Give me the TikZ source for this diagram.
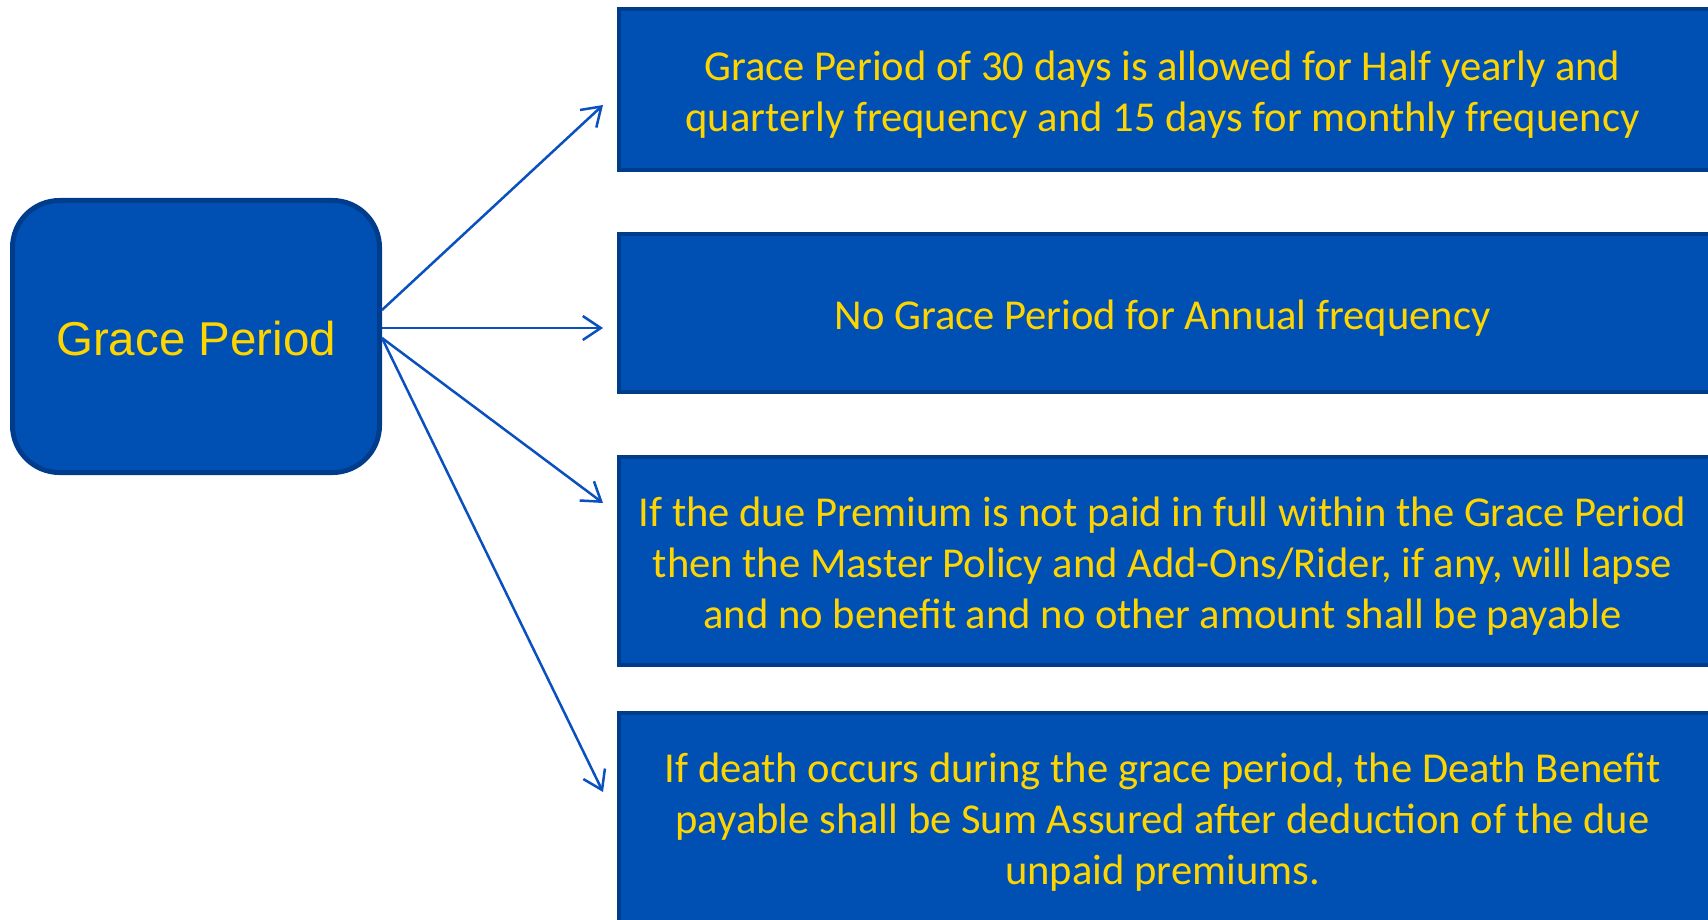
\documentclass[tikz,border=0pt]{standalone}
\usepackage{fontspec}
\setmainfont{Carlito}
\newfontfamily\arialfont{Liberation Sans}
\usetikzlibrary{arrows.meta,calc}
\definecolor{boxfill}{HTML}{0050B4}
\definecolor{boxline}{HTML}{003C8C}
\definecolor{txtyellow}{HTML}{FFD500}
\definecolor{arrblue}{HTML}{0A50BE}
\tikzset{
  gpbox/.style={draw=boxline, fill=boxfill, line width=5pt, rounded corners=47pt, inner sep=0pt},
  gptext/.style={text=txtyellow, font=\arialfont\fontsize{47.5}{56}\selectfont, inner sep=0pt},
  infobox/.style={draw=boxline, fill=boxfill, line width=4pt, minimum width=1091pt, inner sep=0pt},
  infotext/.style={text=txtyellow, align=center, inner sep=0pt, font=\fontsize{42.6}{51}\selectfont},
  conn/.style={draw=arrblue, line width=2.5pt, -{Straight Barb[length=18pt,width=24pt,line width=2.5pt]}}
}
\begin{document}
\begin{tikzpicture}[x=1pt,y=-1pt]
\useasboundingbox (0,0) rectangle (1708,920);
\node[gpbox, minimum width=367pt, minimum height=272pt] (gp) at (196,336.5) {};
\node[gptext] (gpt) at ($(gp.center)+(0,2)$) {Grace Period};
\node[infobox, minimum height=161pt] (b1) at (1164.5,89.5) {};
\node[infobox, minimum height=158pt] (b2) at (1164.5,313) {};
\node[infobox, minimum height=208pt] (b3) at (1164.5,561) {};
\node[infobox, minimum height=210pt] (b4) at (1164.5,818) {};
\node[infotext] (b1t) at ($(b1.center)+(-2,5)$) {Grace Period of 30 days is allowed for Half yearly and\\quarterly frequency and 15 days for monthly frequency};
\node[infotext] (b2t) at ($(b2.center)+(-2,5)$) {No Grace Period for Annual frequency};
\node[infotext] (b3t) at ($(b3.center)+(-2,5)$) {If the due Premium is not paid in full within the Grace Period\\then the Master Policy and Add-Ons/Rider, if any, will lapse\\and no benefit and no other amount shall be payable};
\node[infotext] (b4t) at ($(b4.center)+(-2,4)$) {If death occurs during the grace period, the Death Benefit\\payable shall be Sum Assured after deduction of the due\\unpaid premiums.};
\coordinate (s1) at ($(gp.east)+(0,-26.5)$);
\coordinate (s2) at ($(gp.east)+(0,-8.5)$);
\coordinate (s3) at ($(gp.east)+(0,1.5)$);
\coordinate (t1) at ($(b1.west)+(-14,15.5)$);
\coordinate (t2) at ($(b2.west)+(-14,15)$);
\coordinate (t3) at ($(b3.west)+(-14,-58)$);
\coordinate (t4) at ($(b4.west)+(-14,-26)$);
\draw[conn] (s1) -- (t1);
\draw[conn] (s2) -- (t2);
\draw[conn] (s3) -- (t3);
\draw[conn] (s3) -- (t4);
\end{tikzpicture}
\end{document}
